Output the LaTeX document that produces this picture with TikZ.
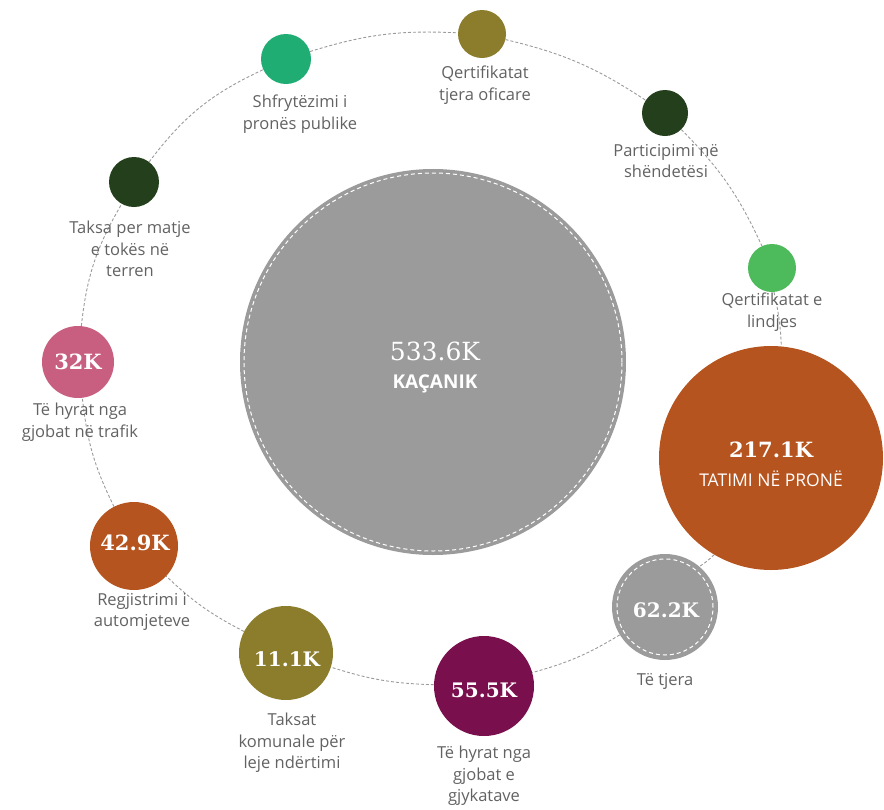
\documentclass[tikz,border=0pt]{standalone}
\usepackage{fontspec}
\setmainfont{Open Sans}
\newfontfamily\valfont{DejaVu Serif}
\definecolor{cgray}{HTML}{9B9B9B}
\definecolor{corange}{HTML}{B5541F}
\definecolor{cplum}{HTML}{7A0F4E}
\definecolor{colive}{HTML}{8B7D2B}
\definecolor{cpink}{HTML}{C95F80}
\definecolor{cdark}{HTML}{243F1C}
\definecolor{cteal}{HTML}{20AD74}
\definecolor{cgreen}{HTML}{4DBB5B}
\definecolor{ctext}{HTML}{626262}
\definecolor{cring}{HTML}{9A9A9A}
\tikzset{
  bub/.style={circle, inner sep=0pt, draw=none},
  ring/.style={draw=cring, line width=0.9pt, dash pattern=on 3pt off 2pt},
  inring/.style={draw=white, line width=1pt, dash pattern=on 4pt off 3pt},
  lbl/.style={align=center, text=ctext, font=\fontsize{16.5}{21.5}\selectfont, inner sep=0pt},
  val/.style={text=white, font=\valfont\bfseries\fontsize{20}{24}\selectfont, inner sep=0pt},
}
\begin{document}
\begin{tikzpicture}[x=1pt, y=-1pt]
\path[use as bounding box] (0,0) rectangle (884,809);
% circles
\node[bub, fill=cgray,   minimum size=386pt] (kac) at (433,362) {};
\node[bub, fill=corange, minimum size=224pt] (tat) at (771,458) {};
\node[bub, fill=cgray,   minimum size=106pt] (tje) at (665,607) {};
\node[bub, fill=cplum,   minimum size=100pt] (gjy) at (484,686) {};
\node[bub, fill=colive,  minimum size=94pt]  (tak) at (286,653) {};
\node[bub, fill=corange, minimum size=88pt]  (reg) at (134,546) {};
\node[bub, fill=cpink,   minimum size=72pt]  (tra) at (78,362) {};
\node[bub, fill=cdark,   minimum size=50pt]  (mat) at (134,182) {};
\node[bub, fill=cteal,   minimum size=50pt]  (shf) at (286,59) {};
\node[bub, fill=colive,  minimum size=48pt]  (qer) at (482,34) {};
\node[bub, fill=cdark,   minimum size=46pt]  (par) at (665,113) {};
\node[bub, fill=cgreen,  minimum size=48pt]  (lin) at (772,268) {};
% inner dashed rings
\node[bub, inring, minimum size=378pt] (kacr) at (kac.center) {};
\node[bub, inring, minimum size=96pt] (tjer) at (tje.center) {};
% connectors
\draw[ring] (tra) to[bend left=12] (mat);
\draw[ring] (mat) to[bend left=14] (shf);
\draw[ring] (shf) to[bend left=10] (qer);
\draw[ring] (qer) to[bend left=10] (par);
\draw[ring] (par) to[bend left=10] (lin);
\draw[ring] (lin) to[bend left=5] (tat);
\draw[ring] (tat) to[bend left=5] (tje);
\draw[ring] (tje) to[bend left=8] (gjy);
\draw[ring] (gjy) to[bend left=8] (tak);
\draw[ring] (tak) to[bend left=8] (reg);
\draw[ring] (reg) to[bend left=10] (tra);
% values
\node[val, font=\valfont\fontsize{25}{28}\selectfont] (kacv) at (435,351) {533.6K};
\node[text=white, font=\bfseries\fontsize{19}{22}\selectfont, inner sep=0pt] (kacn) at (435,384) {KAÇANIK};
\node[val, font=\valfont\bfseries\fontsize{21}{26}\selectfont] (tatv) at (771,450) {217.1K};
\node[text=white, font=\fontsize{17.5}{20}\selectfont, inner sep=0pt] (tatn) at (771,479) {TATIMI NË PRONË};
\node[val] (tjev) at (666,610) {62.2K};
\node[val] (gjyv) at (484,690) {55.5K};
\node[val] (takv) at (287,659) {11.1K};
\node[val, font=\valfont\bfseries\fontsize{21}{24}\selectfont] (regv) at (135,543) {42.9K};
\node[val, font=\valfont\bfseries\fontsize{21}{24}\selectfont] (trav) at (78,362) {32K};
% labels
\node[lbl] (shfl) at (300,114) {Shfrytëzimi i\\pronës publike};
\node[lbl] (qerl) at (485,85) {Qertifikatat\\tjera oficare};
\node[lbl] (parl) at (666,161) {Participimi në\\shëndetësi};
\node[lbl] (linl) at (772,312) {Qertifikatat e\\lindjes};
\node[lbl] (matl) at (130,249) {Taksa per matje\\e tokës në\\terren};
\node[lbl] (tral) at (80,422) {Të hyrat nga\\gjobat në trafik};
\node[lbl] (regl) at (142,612) {Regjistrimi i\\automjeteve};
\node[lbl] (takl) at (292,743) {Taksat\\komunale për\\leje ndërtimi};
\node[lbl] (gjyl) at (484,776) {Të hyrat nga\\gjobat e\\gjykatave};
\node[lbl] (tjel) at (665,681) {Të tjera};
\end{tikzpicture}
\end{document}
